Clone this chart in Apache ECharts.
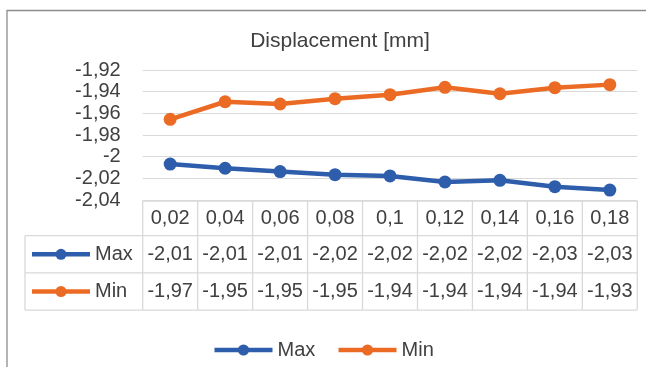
<!DOCTYPE html>
<html>
<head>
<meta charset="utf-8">
<script src="https://cdn.jsdelivr.net/npm/echarts@6/dist/echarts.min.js"></script>
<style>
  html, body { margin: 0; padding: 0; background: #fff; }
  #chart { width: 646px; height: 367px; }
</style>
</head>
<body>
<div id="chart"></div>
<script>
// Load step (mm) for each column of the table
const categories = [0.02, 0.04, 0.06, 0.08, 0.1, 0.12, 0.14, 0.16, 0.18];
// Displacement series (mm)
const maxValues = [-2.0068, -2.0107, -2.0138, -2.0166, -2.0178, -2.0234, -2.0218, -2.0277, -2.0308];
const minValues = [-1.9655, -1.9493, -1.9514, -1.9465, -1.9428, -1.9360, -1.9419, -1.9363, -1.9335];
const seriesNames = ['Max', 'Min'];
const yTicks = { min: -2.04, max: -1.92, step: 0.02 };

const COLORS = ['#2E5EAB', '#EB6B24'];
const TEXT = '#404040';
const LINE = '#D9D9D9';
const FONT = '"Liberation Sans", Arial, sans-serif';

const comma = v => String(v).replace('.', ',');
const fmtTick = v => comma(parseFloat(v.toFixed(2)));
const fmtCell = v => v.toFixed(2).replace('.', ',');

const chart = echarts.init(document.getElementById('chart'), null, { renderer: 'canvas' });

const seriesData = [maxValues, minValues];

chart.setOption({
  animation: false,
  backgroundColor: '#fff',
  textStyle: { fontFamily: FONT },
  title: {
    text: 'Displacement [mm]',
    left: 335,
    textAlign: 'center',
    top: 26,
    textStyle: { fontFamily: FONT, fontSize: 21, fontWeight: 'normal', color: TEXT }
  },
  grid: { left: 142.7, right: 8.7, top: 70, bottom: 167 },
  xAxis: {
    type: 'category',
    data: categories.map(comma),
    boundaryGap: true,
    axisLine: { show: false },
    axisTick: { show: false },
    axisLabel: { show: false }
  },
  yAxis: {
    type: 'value',
    min: yTicks.min,
    max: yTicks.max,
    interval: yTicks.step,
    axisLine: { show: false },
    axisTick: { show: false },
    axisLabel: {
      formatter: fmtTick,
      margin: 22,
      fontFamily: FONT,
      fontSize: 20,
      color: TEXT
    },
    splitLine: { lineStyle: { color: LINE, width: 1 } }
  },
  legend: {
    data: seriesNames,
    left: 'center',
    top: 335,
    itemWidth: 58,
    itemHeight: 14,
    itemGap: 21,
    lineStyle: { width: 4.5 },
    textStyle: { fontFamily: FONT, fontSize: 20, color: TEXT }
  },
  series: seriesNames.map((name, i) => ({
    name,
    type: 'line',
    data: seriesData[i],
    symbol: 'circle',
    symbolSize: 13,
    itemStyle: { color: COLORS[i] },
    lineStyle: { color: COLORS[i], width: 4.5 }
  }))
});

// Data table under the plot, laid out from the category axis
function buildTable() {
  const n = categories.length;
  const xs = categories.map((_, i) => chart.convertToPixel({ xAxisIndex: 0 }, i));
  const band = xs[1] - xs[0];
  const x0 = xs[0] - band / 2;
  const x1 = xs[n - 1] + band / 2;
  const top = chart.convertToPixel({ yAxisIndex: 0 }, yTicks.min) + 1;
  const headerH = 34.7;
  const rowH = 37.2;
  const leftX = 25;
  const rowTops = [top + headerH, top + headerH + rowH];
  const bottom = top + headerH + 2 * rowH;

  const els = [];
  const line = (xa, ya, xb, yb) => els.push({
    type: 'line',
    shape: { x1: xa, y1: ya, x2: xb, y2: yb },
    style: { stroke: LINE, lineWidth: 1.3 },
    silent: true
  });
  const text = (t, x, y, align) => els.push({
    type: 'text',
    x, y,
    style: {
      text: t, fill: TEXT, font: '20px ' + FONT,
      align: align || 'center', verticalAlign: 'middle'
    },
    silent: true
  });

  // borders
  line(x0, top, x1, top);
  rowTops.forEach(y => line(leftX, y, x1, y));
  line(leftX, bottom, x1, bottom);
  line(leftX, rowTops[0], leftX, bottom);
  for (let k = 0; k <= n; k++) {
    const x = x0 + k * band;
    line(x, top, x, bottom);
  }

  // header row
  categories.forEach((c, i) => text(comma(c), xs[i], top + headerH / 2 + 0.5));

  // series rows
  seriesData.forEach((vals, r) => {
    const yc = rowTops[r] + rowH / 2;
    vals.forEach((v, i) => text(fmtCell(v), xs[i], yc));
    els.push({
      type: 'line',
      shape: { x1: 32, y1: yc, x2: 90, y2: yc },
      style: { stroke: COLORS[r], lineWidth: 4.5 },
      silent: true
    });
    els.push({
      type: 'circle',
      shape: { cx: 61, cy: yc, r: 5.5 },
      style: { fill: COLORS[r] },
      silent: true
    });
    text(seriesNames[r], 95, yc, 'left');
  });

  // chart area frame
  els.push({
    type: 'rect',
    shape: { x: 7, y: 10.5, width: 700, height: 400 },
    style: { fill: null, stroke: '#8C8C8C', lineWidth: 1.3 },
    silent: true
  });

  chart.setOption({ graphic: { elements: els } });
}

buildTable();
</script>
</body>
</html>
